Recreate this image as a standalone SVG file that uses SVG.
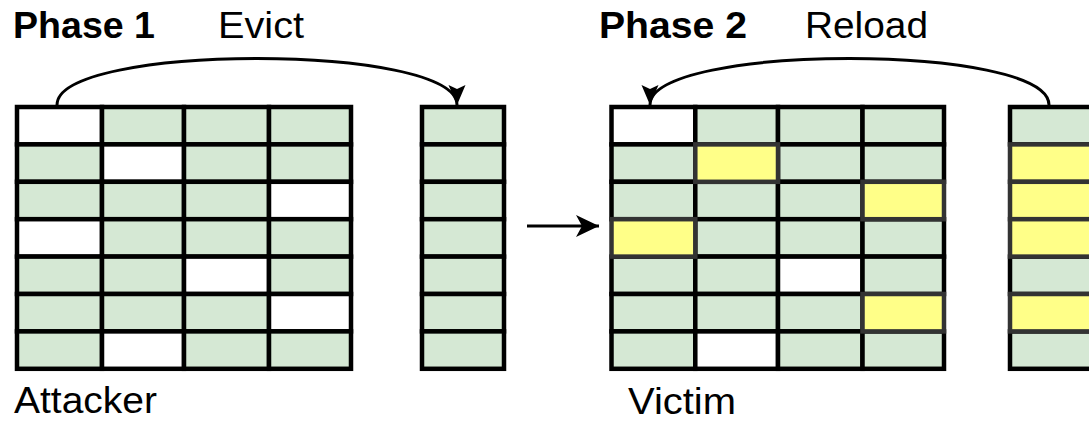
<svg xmlns="http://www.w3.org/2000/svg" width="1089" height="421" viewBox="0 0 1089 421">
<style>
.g{fill:#d5e8d4}.w{fill:#ffffff}.y{fill:#ffff88}
.c rect{stroke:#000;stroke-width:4.5}
.c rect.y{stroke:#333}
.t{font-family:"Liberation Sans",Arial,Helvetica,sans-serif;font-size:36px;fill:#000}
.b{font-weight:bold}
.edge{fill:none;stroke:#000;stroke-width:3}
</style>
<defs>
<marker id="ah" markerUnits="userSpaceOnUse" markerWidth="24" markerHeight="24" viewBox="0 0 24 24" refX="21" refY="12" orient="auto">
<path d="M1,3.5 L21,12 L1,20.5 L5,12 Z" fill="#000"/>
</marker>
<marker id="ah2" markerUnits="userSpaceOnUse" markerWidth="26" markerHeight="26" viewBox="0 0 26 26" refX="24" refY="13" orient="auto">
<path d="M1,2 L24,13 L1,24 L7,13 Z" fill="#000"/>
</marker>
</defs>
<rect width="1089" height="421" fill="#fff"/>

<g id="labels">
<text class="t b" x="13" y="38" textLength="142" lengthAdjust="spacingAndGlyphs">Phase 1</text>
<text class="t" x="218" y="38" textLength="86" lengthAdjust="spacingAndGlyphs">Evict</text>
<text class="t b" x="599" y="38" textLength="148" lengthAdjust="spacingAndGlyphs">Phase 2</text>
<text class="t" x="805" y="38" textLength="123" lengthAdjust="spacingAndGlyphs">Reload</text>
<text class="t" x="14" y="413" textLength="143" lengthAdjust="spacingAndGlyphs">Attacker</text>
<text class="t" x="628" y="414" textLength="108" lengthAdjust="spacingAndGlyphs">Victim</text>
</g>

<g id="attacker-cache" class="c">
<rect class="w" x="17" y="107" width="85" height="37.4"/><rect class="g" x="102" y="107" width="82" height="37.4"/><rect class="g" x="184" y="107" width="85" height="37.4"/><rect class="g" x="269" y="107" width="82" height="37.4"/>
<rect class="g" x="17" y="144.4" width="85" height="37.4"/><rect class="w" x="102" y="144.4" width="82" height="37.4"/><rect class="g" x="184" y="144.4" width="85" height="37.4"/><rect class="g" x="269" y="144.4" width="82" height="37.4"/>
<rect class="g" x="17" y="181.8" width="85" height="37.4"/><rect class="g" x="102" y="181.8" width="82" height="37.4"/><rect class="g" x="184" y="181.8" width="85" height="37.4"/><rect class="w" x="269" y="181.8" width="82" height="37.4"/>
<rect class="w" x="17" y="219.2" width="85" height="37.4"/><rect class="g" x="102" y="219.2" width="82" height="37.4"/><rect class="g" x="184" y="219.2" width="85" height="37.4"/><rect class="g" x="269" y="219.2" width="82" height="37.4"/>
<rect class="g" x="17" y="256.6" width="85" height="37.4"/><rect class="g" x="102" y="256.6" width="82" height="37.4"/><rect class="w" x="184" y="256.6" width="85" height="37.4"/><rect class="g" x="269" y="256.6" width="82" height="37.4"/>
<rect class="g" x="17" y="294" width="85" height="37.4"/><rect class="g" x="102" y="294" width="82" height="37.4"/><rect class="g" x="184" y="294" width="85" height="37.4"/><rect class="w" x="269" y="294" width="82" height="37.4"/>
<rect class="g" x="17" y="331.4" width="85" height="37.4"/><rect class="w" x="102" y="331.4" width="82" height="37.4"/><rect class="g" x="184" y="331.4" width="85" height="37.4"/><rect class="g" x="269" y="331.4" width="82" height="37.4"/>
</g>

<g id="attacker-set" class="c">
<rect class="g" x="422" y="107" width="82" height="37.4"/>
<rect class="g" x="422" y="144.4" width="82" height="37.4"/>
<rect class="g" x="422" y="181.8" width="82" height="37.4"/>
<rect class="g" x="422" y="219.2" width="82" height="37.4"/>
<rect class="g" x="422" y="256.6" width="82" height="37.4"/>
<rect class="g" x="422" y="294" width="82" height="37.4"/>
<rect class="g" x="422" y="331.4" width="82" height="37.4"/>
</g>

<g id="victim-cache" class="c">
<rect class="w" x="611.5" y="107" width="83.8" height="37.4"/><rect class="g" x="695.3" y="107" width="82.7" height="37.4"/><rect class="g" x="778" y="107" width="84.5" height="37.4"/><rect class="g" x="862.5" y="107" width="81.5" height="37.4"/>
<rect class="g" x="611.5" y="144.4" width="83.8" height="37.4"/><rect class="g" x="778" y="144.4" width="84.5" height="37.4"/><rect class="g" x="862.5" y="144.4" width="81.5" height="37.4"/>
<rect class="g" x="611.5" y="181.8" width="83.8" height="37.4"/><rect class="g" x="695.3" y="181.8" width="82.7" height="37.4"/><rect class="g" x="778" y="181.8" width="84.5" height="37.4"/>
<rect class="g" x="695.3" y="219.2" width="82.7" height="37.4"/><rect class="g" x="778" y="219.2" width="84.5" height="37.4"/><rect class="g" x="862.5" y="219.2" width="81.5" height="37.4"/>
<rect class="g" x="611.5" y="256.6" width="83.8" height="37.4"/><rect class="g" x="695.3" y="256.6" width="82.7" height="37.4"/><rect class="w" x="778" y="256.6" width="84.5" height="37.4"/><rect class="g" x="862.5" y="256.6" width="81.5" height="37.4"/>
<rect class="g" x="611.5" y="294" width="83.8" height="37.4"/><rect class="g" x="695.3" y="294" width="82.7" height="37.4"/><rect class="g" x="778" y="294" width="84.5" height="37.4"/>
<rect class="g" x="611.5" y="331.4" width="83.8" height="37.4"/><rect class="w" x="695.3" y="331.4" width="82.7" height="37.4"/><rect class="g" x="778" y="331.4" width="84.5" height="37.4"/><rect class="g" x="862.5" y="331.4" width="81.5" height="37.4"/>
<rect class="y" x="695.3" y="144.4" width="82.7" height="37.4"/>
<rect class="y" x="862.5" y="181.8" width="81.5" height="37.4"/>
<rect class="y" x="611.5" y="219.2" width="83.8" height="37.4"/>
<rect class="y" x="862.5" y="294" width="81.5" height="37.4"/>
</g>

<g id="victim-set" class="c">
<rect class="g" x="1010" y="107" width="82" height="37.4"/>
<rect class="g" x="1010" y="256.6" width="82" height="37.4"/>
<rect class="g" x="1010" y="331.4" width="82" height="37.4"/>
<rect class="y" x="1010" y="144.4" width="82" height="37.4"/>
<rect class="y" x="1010" y="181.8" width="82" height="37.4"/>
<rect class="y" x="1010" y="219.2" width="82" height="37.4"/>
<rect class="y" x="1010" y="294" width="82" height="37.4"/>
</g>

<g id="connectors">
<path class="edge" d="M57,105 C57,43 457,43 457,105" marker-end="url(#ah)"/>
<path class="edge" d="M1049,105 C1049,43 650,43 650,105" marker-end="url(#ah)"/>
<path class="edge" d="M527,226 L599,226" stroke-width="3.5" marker-end="url(#ah2)"/>
</g>
</svg>
